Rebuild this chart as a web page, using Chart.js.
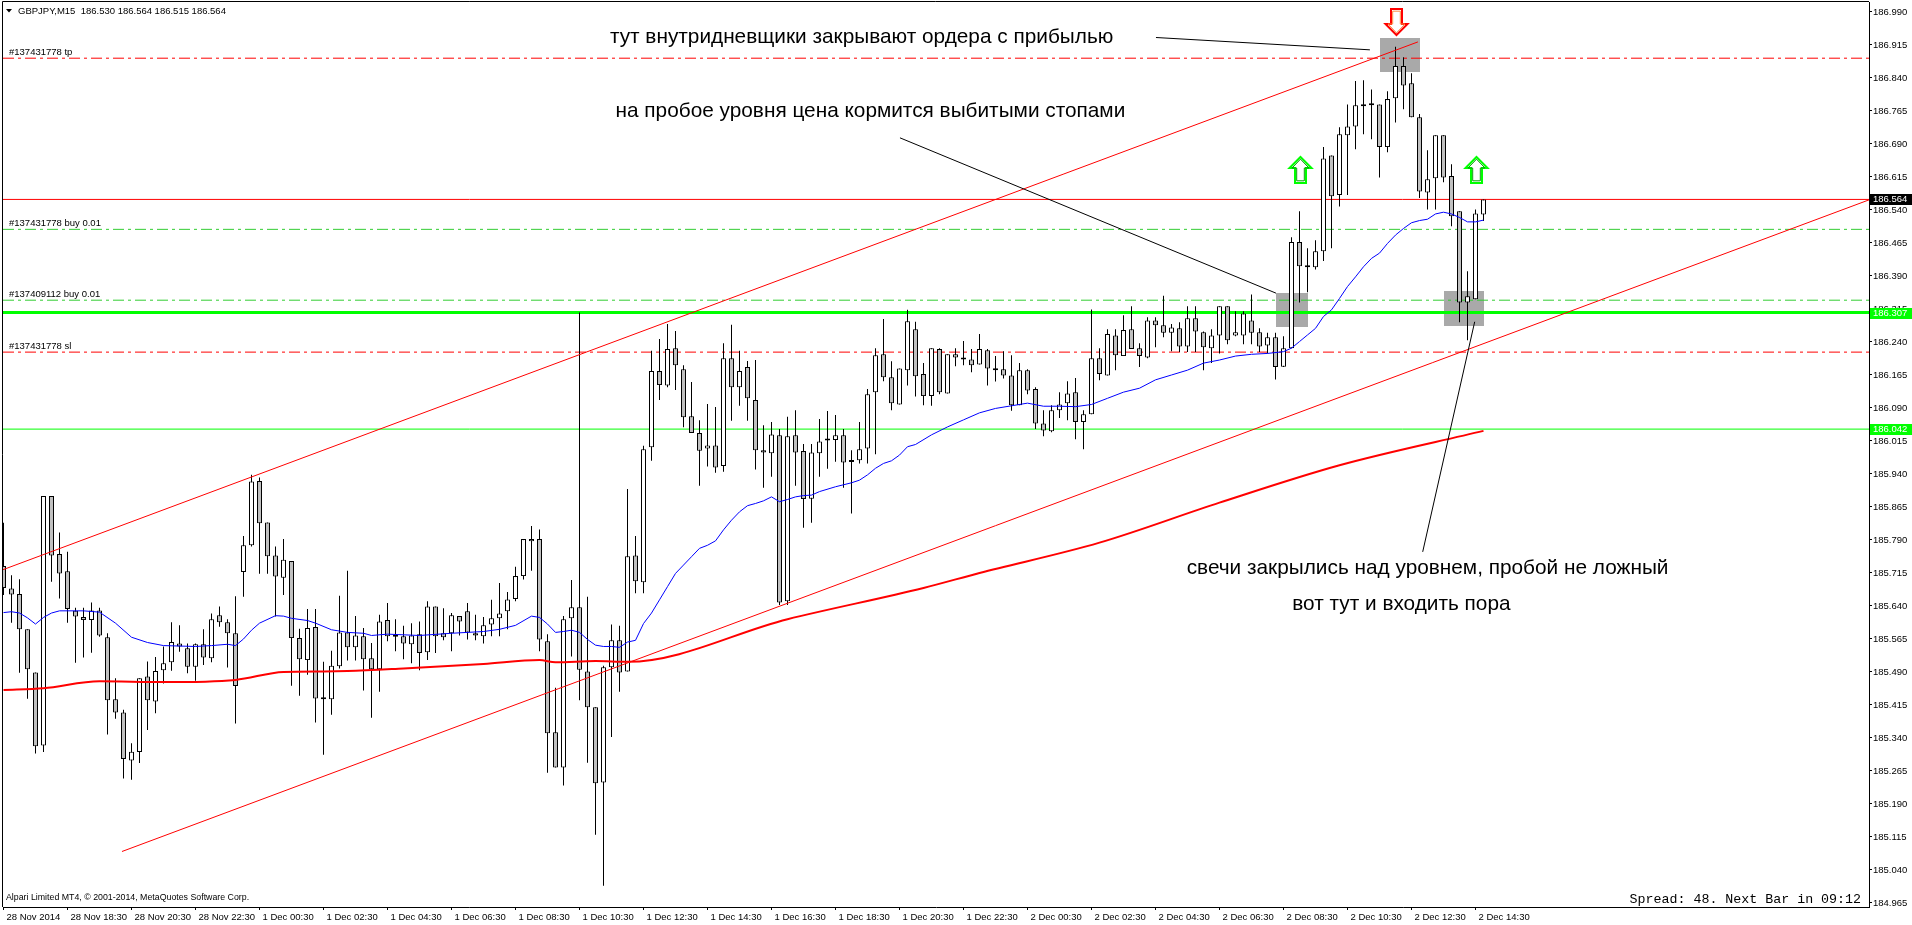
<!DOCTYPE html>
<html><head><meta charset="utf-8"><title>GBPJPY M15</title>
<script src="https://cdn.jsdelivr.net/npm/chart.js@4.4.1/dist/chart.umd.min.js"></script>
<style>html,body{margin:0;padding:0;background:#fff;overflow:hidden}canvas{display:block}</style>
</head><body>
<canvas id="c" width="1912" height="925"></canvas>
<script>
// ---------- data (GBPJPY M15, bar 0 = 28 Nov 16:30) ----------
const opens=[185.731,185.680,185.667,185.587,185.489,185.323,185.890,185.758,185.719,185.629,
185.615,185.608,185.630,185.569,185.428,185.398,185.289,185.308,185.480,185.423,
185.494,185.512,185.555,185.544,185.502,185.553,185.521,185.619,185.603,185.578,
185.717,185.778,185.924,185.830,185.755,185.704,185.742,185.567,185.517,185.592,
185.429,185.428,185.503,185.580,185.546,185.571,185.521,185.496,185.608,185.573,
185.571,185.553,185.576,185.535,185.639,185.578,185.578,185.617,185.628,185.578,
185.571,185.598,185.612,185.628,185.656,185.708,185.792,185.792,185.560,185.353,
185.273,185.612,185.637,185.491,185.410,185.239,185.501,185.562,185.491,185.755,
185.694,186.001,186.174,186.141,186.226,186.178,186.071,186.033,185.998,186.005,
185.958,186.203,186.137,186.183,186.108,185.994,185.987,186.028,185.651,186.028,
185.992,185.884,185.987,186.017,186.017,186.028,185.967,185.971,185.998,186.126,
186.212,186.160,186.098,186.176,186.269,186.167,186.117,186.224,186.123,186.212,
186.202,186.200,186.189,186.221,186.180,186.178,186.164,186.096,186.176,186.133,
186.055,186.037,186.085,186.101,186.126,186.058,186.076,186.203,186.164,186.255,
186.208,186.269,186.226,186.205,186.289,186.278,186.261,186.271,186.230,186.294,
186.262,186.226,186.255,186.321,186.255,186.255,186.289,186.262,186.232,186.251,
186.184,186.226,186.467,186.412,186.410,186.446,186.664,186.574,186.710,186.730,
186.778,186.778,186.780,186.683,186.794,186.867,186.828,186.751,186.580,186.612,
186.710,186.617,186.537,186.330,186.337,186.530];
const highs=[185.829,185.710,185.701,185.587,185.489,185.890,185.890,185.807,185.763,185.636,
185.636,185.648,185.636,185.578,185.476,185.404,185.328,185.476,185.514,185.524,
185.548,185.603,185.596,185.555,185.555,185.587,185.623,185.639,185.610,185.662,
185.799,185.938,185.932,185.830,185.775,185.792,185.742,185.588,185.633,185.633,
185.513,185.538,185.663,185.720,185.617,185.590,185.556,185.620,185.647,185.610,
185.595,185.601,185.605,185.651,185.639,185.635,185.624,185.617,185.647,185.620,
185.615,185.654,185.692,185.672,185.729,185.792,185.822,185.814,185.576,185.454,
185.617,185.699,186.307,185.661,185.410,185.504,185.598,185.595,185.906,185.799,
186.004,186.220,186.247,186.281,186.265,186.187,186.149,186.062,186.099,186.092,
186.237,186.279,186.220,186.197,186.199,186.051,186.058,186.042,186.070,186.085,
186.008,186.008,186.065,186.083,186.074,186.042,185.994,186.058,186.133,186.226,
186.292,186.196,186.180,186.313,186.286,186.192,186.226,186.226,186.212,186.226,
186.242,186.224,186.258,186.224,186.208,186.219,186.210,186.192,186.178,186.137,
186.085,186.096,186.126,186.151,186.158,186.085,186.314,186.226,186.269,186.269,
186.301,186.321,186.237,186.296,186.296,186.345,186.281,186.285,186.321,186.321,
186.264,186.269,186.321,186.321,186.310,186.310,186.348,186.271,186.261,186.261,
186.253,186.478,186.537,186.453,186.471,186.683,186.664,186.728,186.780,186.833,
186.835,186.814,186.780,186.810,186.911,186.887,186.851,186.758,186.676,186.710,
186.710,186.644,186.537,186.401,186.541,186.564];
const lows=[185.665,185.602,185.488,185.429,185.305,185.308,185.695,185.657,185.602,185.511,
185.523,185.534,185.570,185.348,185.384,185.248,185.245,185.283,185.358,185.396,
185.464,185.493,185.536,185.487,185.470,185.506,185.512,185.593,185.500,185.373,
185.661,185.775,185.713,185.713,185.616,185.665,185.459,185.436,185.484,185.375,
185.302,185.393,185.498,185.516,185.516,185.448,185.386,185.445,185.560,185.537,
185.519,185.510,185.494,185.517,185.533,185.562,185.537,185.573,185.564,185.562,
185.555,185.571,185.571,185.587,185.651,185.700,185.720,185.537,185.261,185.273,
185.232,185.525,185.426,185.284,185.120,185.004,185.342,185.445,185.491,185.669,
185.669,185.970,186.108,186.137,186.131,186.046,186.033,185.913,185.957,185.943,
185.945,186.061,186.095,186.061,185.950,185.909,185.934,185.642,185.642,185.913,
185.818,185.829,185.934,185.952,185.968,185.909,185.850,185.964,185.964,185.985,
186.151,186.085,186.098,186.141,186.116,186.096,186.095,186.121,186.123,186.185,
186.187,186.171,186.189,186.141,186.150,186.157,186.084,186.096,186.121,186.042,
186.026,186.035,186.067,186.062,186.019,185.996,186.076,186.153,186.164,186.176,
186.208,186.224,186.183,186.203,186.228,186.251,186.219,186.217,186.217,186.217,
186.176,186.192,186.214,186.235,186.253,186.235,186.235,186.217,186.214,186.155,
186.183,186.226,186.330,186.353,186.405,186.424,186.453,186.548,186.574,186.678,
186.712,186.701,186.614,186.671,186.739,186.769,186.751,186.567,186.541,186.541,
186.603,186.503,186.285,186.244,186.337,186.515];
const closes=[185.681,185.666,185.587,185.496,185.321,185.890,185.755,185.714,185.633,185.616,
185.608,185.630,185.573,185.426,185.398,185.292,185.309,185.476,185.426,185.492,
185.510,185.558,185.548,185.502,185.553,185.523,185.610,185.603,185.578,185.458,
185.778,185.923,185.828,185.753,185.707,185.745,185.567,185.519,185.590,185.430,
185.428,185.504,185.580,185.546,185.573,185.519,185.496,185.605,185.571,185.570,
185.555,185.573,185.533,185.639,185.571,185.569,185.619,185.605,185.580,185.573,
185.596,185.612,185.623,185.655,185.708,185.792,185.787,185.564,185.351,185.273,
185.610,185.637,185.495,185.410,185.237,185.501,185.562,185.489,185.753,185.696,
185.996,186.174,186.142,186.224,186.187,186.069,186.033,185.993,186.005,185.955,
186.203,186.137,186.174,186.112,185.994,185.989,186.030,185.648,186.026,185.989,
185.883,185.989,186.014,186.016,186.028,185.966,185.971,185.996,186.121,186.210,
186.160,186.101,186.180,186.287,186.162,186.117,186.226,186.126,186.212,186.205,
186.200,186.187,186.224,186.180,186.176,186.164,186.096,186.176,186.130,186.055,
186.039,186.085,186.098,186.123,186.058,186.076,186.203,186.167,186.258,186.210,
186.267,186.224,186.208,186.289,186.278,186.261,186.273,186.230,186.294,186.264,
186.228,186.255,186.321,186.244,186.262,186.305,186.261,186.230,186.251,186.183,
186.226,186.467,186.412,186.410,186.446,186.657,186.571,186.712,186.730,186.778,
186.776,186.782,186.683,186.792,186.867,186.823,186.751,186.582,186.610,186.710,
186.614,186.526,186.330,186.344,186.532,186.564];

// blue moving average, read at these bars
const maFastIdx=[0,1,2,3,4,5,6,7,10,12,14,16,18,20,22,24,26,28,29,30,31,32,34,35,36,38,39,41,43,45,46,48,52,56,60,62,64,
66,67,68,69,70,71,72,73,74,75,76,77,78,79,80,81,82,83,84,85,86,87,88,89,90,91,92,93,94,95,96,97,98,99,100,101,102,
104,106,107,108,109,110,111,112,113,114,116,118,120,122,124,126,128,130,132,134,136,138,140,142,144,146,148,150,152,154,156,158,160,
161,162,163,164,165,166,167,168,169,170,171,172,173,174,175,176,177,178,179,180,181,182,183,184,185];
const maFastVal=[185.625,185.627,185.624,185.613,185.599,185.614,185.624,185.629,185.629,185.626,185.601,185.569,185.557,185.550,185.549,185.548,185.550,185.553,185.550,185.565,185.585,185.601,185.618,185.617,185.612,185.607,185.601,185.586,185.580,185.578,185.573,185.576,185.573,185.578,185.582,185.587,185.596,
185.617,185.614,185.599,185.580,185.582,185.585,185.580,185.564,185.551,185.548,185.548,185.546,185.558,185.562,185.600,185.624,185.654,185.684,185.714,185.733,185.752,185.771,185.778,185.788,185.813,185.835,185.854,185.868,185.873,185.879,185.888,185.877,185.882,185.888,185.891,185.892,185.900,
185.911,185.920,185.926,185.938,185.953,185.964,185.970,185.983,186.002,186.007,186.029,186.047,186.063,186.079,186.089,186.095,186.101,186.094,186.094,186.093,186.098,186.112,186.126,186.135,186.154,186.165,186.176,186.192,186.199,186.208,186.212,186.214,186.218,
186.226,186.241,186.256,186.271,186.298,186.313,186.339,186.366,186.388,186.411,186.430,186.442,186.464,186.483,186.498,186.511,186.516,186.519,186.531,186.535,186.531,186.523,186.513,186.513,186.517];
// red slow moving average
const maSlowIdx=[0,5,12,20,29,35,40,43,50,60,67,69,74,78,98,115,122,137,152,167,185];
const maSlowVal=[185.449,185.453,185.469,185.467,185.472,185.490,185.491,185.492,185.498,185.508,185.517,185.512,185.515,185.513,185.610,185.681,185.715,185.784,185.875,185.960,186.038];

// axis ticks
const xTickIdx=[0,8,16,24,32,40,48,56,64,72,80,88,96,104,112,120,128,136,144,152,160,168,176,184];
const xTickLabels=['28 Nov 2014','28 Nov 18:30','28 Nov 20:30','28 Nov 22:30','1 Dec 00:30','1 Dec 02:30','1 Dec 04:30','1 Dec 06:30','1 Dec 08:30','1 Dec 10:30','1 Dec 12:30','1 Dec 14:30','1 Dec 16:30','1 Dec 18:30','1 Dec 20:30','1 Dec 22:30','2 Dec 00:30','2 Dec 02:30','2 Dec 04:30','2 Dec 06:30','2 Dec 08:30','2 Dec 10:30','2 Dec 12:30','2 Dec 14:30'];
const yTickValues=[184.965,185.040,185.115,185.190,185.265,185.340,185.415,185.490,185.565,185.640,185.715,185.790,185.865,185.940,186.015,186.090,186.165,186.240,186.315,186.390,186.465,186.540,186.615,186.690,186.765,186.840,186.915,186.990];

// price levels
const tpLevel=186.885, slLevel=186.217, buyLevelA=186.496, buyLevelB=186.335;
const bidLevel=186.564, breakLevel=186.307, lowLevel=186.042;
const orderTags=[[tpLevel,'#137431778 tp'],[buyLevelA,'#137431778 buy 0.01'],[buyLevelB,'#137409112 buy 0.01'],[slLevel,'#137431778 sl']];

// drawn objects (bar index, price)
const channelUpper=[[-0.4375,185.720],[176.8,186.922]];
const channelLower=[[14.81,185.082],[233.19,186.563]];
const pointerA=[[144.06,186.932],[170.8,186.904]];
const pointerB=[[112.06,186.704],[159.06,186.351]];
const pointerC=[[183.9,186.286],[177.4,185.763]];
const zoneBoxes=[[172,177,186.932,186.854],[159,163,186.351,186.273],[180,185,186.356,186.276]];
const arrowMarks=[[162,186.661,'up'],[184,186.661,'up'],[174,186.938,'down']];
const notes=[[75.8,186.933,'тут внутридневщики закрывают ордера с прибылью'],
 [76.5,186.765,'на пробое уровня цена кормится выбитыми стопами'],
 [147.9,185.726,'свечи закрылись над уровнем, пробой не ложный'],
 [161.1,185.645,'вот тут и входить пора']];

// ---------- chart ----------
const FONT="'Liberation Sans', Arial, sans-serif";
Chart.defaults.font.family=FONT;
Chart.defaults.color='#000';
const SMALL="9.5px "+FONT;
const XMIN=-0.0625, XMAX=233.1875, YMIN=184.9559, YMAX=187.0127;

function hline(level,color,width,dash){
  return {type:'line',data:[{x:XMIN,y:level},{x:XMAX,y:level}],borderColor:color,borderWidth:width,
    borderDash:dash||[],pointRadius:0,order:6,clip:0,tension:0};
}
function seg(pts,color,width,order){
  return {type:'line',data:pts.map(p=>({x:p[0],y:p[1]})),borderColor:color,borderWidth:width,pointRadius:0,order:order,clip:0,tension:0};
}
const DASHDOT=[11,4,3,4];

const wickData=highs.map((h,i)=>({x:i,y:[lows[i],h]}));
const bodyData=opens.map((o,i)=>({x:i,y:[Math.min(o,closes[i]),Math.max(o,closes[i])]}));
const bodyColors=opens.map((o,i)=>closes[i]>=o?'#FFFFFF':'#C0C0C0');

const datasets=[
  hline(tpLevel,'#FF0000',1,DASHDOT),
  hline(slLevel,'#FF0000',1,DASHDOT),
  hline(buyLevelA,'#32CD32',1,DASHDOT),
  hline(buyLevelB,'#32CD32',1,DASHDOT),
  hline(breakLevel,'#00FF00',3),
  hline(lowLevel,'#00FF00',1),
  hline(bidLevel,'#FF0000',1),
  {type:'bar',data:wickData,backgroundColor:'#000',borderWidth:0,barThickness:1,grouped:false,inflateAmount:0,order:5,clip:0},
  {type:'bar',data:bodyData,backgroundColor:bodyColors,borderColor:'#000',borderWidth:1,borderSkipped:false,
    barThickness:5,grouped:false,inflateAmount:0,minBarLength:2,order:4,clip:0},
  {type:'line',data:maFastIdx.map((v,k)=>({x:v,y:maFastVal[k]})),borderColor:'#0000FF',borderWidth:1,pointRadius:0,order:3,clip:0,tension:0},
  {type:'line',data:maSlowIdx.map((v,k)=>({x:v,y:maSlowVal[k]})),borderColor:'#FF0000',borderWidth:2,pointRadius:0,order:3,clip:0,tension:0.3,cubicInterpolationMode:'monotone'},
  seg(channelUpper,'#FF0000',1,2),
  seg(channelLower,'#FF0000',1,2),
  seg(pointerA,'#000',1,1),
  seg(pointerB,'#000',1,1),
  seg(pointerC,'#000',1,1)
];

function arrowPath(ctx,cx,ty,dir,hh,sh,hl,len){
  const s=dir==='up'?1:-1;
  ctx.beginPath();
  ctx.moveTo(cx,ty);
  ctx.lineTo(cx+hh,ty+s*hl);
  ctx.lineTo(cx+sh,ty+s*hl);
  ctx.lineTo(cx+sh,ty+s*len);
  ctx.lineTo(cx-sh,ty+s*len);
  ctx.lineTo(cx-sh,ty+s*hl);
  ctx.lineTo(cx-hh,ty+s*hl);
  ctx.closePath();
}
function drawArrow(ctx,cx,ty,dir){
  const outer=dir==='up'?'#00FF00':'#FF0000';
  const inner=dir==='up'?'#00A000':'#FF8C40';
  ctx.lineJoin='miter';
  arrowPath(ctx,cx,ty,dir,11,5.5,11,26);
  ctx.fillStyle='#FFFFFF';ctx.fill();
  ctx.lineWidth=2;ctx.strokeStyle=outer;ctx.stroke();
  const s=dir==='up'?1:-1;
  arrowPath(ctx,cx,ty+s*2.2,dir,8.5,3.8,8.8,21.6);
  ctx.lineWidth=1;ctx.strokeStyle=inner;ctx.stroke();
}

const overlay={
  id:'overlay',
  beforeDatasetsDraw(chart){
    const {ctx,chartArea:a,scales:{x,y}}=chart;
    ctx.save();
    ctx.beginPath();ctx.rect(a.left,a.top,a.right-a.left,a.bottom-a.top);ctx.clip();
    ctx.fillStyle='#A9A9A9';
    zoneBoxes.forEach(([i0,i1,p0,p1])=>{
      const x0=Math.round(x.getPixelForValue(i0)),x1=Math.round(x.getPixelForValue(i1));
      const y0=Math.round(y.getPixelForValue(p0)),y1=Math.round(y.getPixelForValue(p1));
      ctx.fillRect(x0,y0,x1-x0,y1-y0);
    });
    ctx.restore();
  },
  afterDatasetsDraw(chart){
    const {ctx,chartArea:a,scales:{x,y}}=chart;
    ctx.save();
    ctx.beginPath();ctx.rect(a.left,a.top,a.right-a.left,a.bottom-a.top);ctx.clip();
    arrowMarks.forEach(([i,p,dir])=>drawArrow(ctx,Math.round(x.getPixelForValue(i))+0.5,Math.round(y.getPixelForValue(p)),dir));
    ctx.fillStyle='#000';ctx.textAlign='left';ctx.textBaseline='middle';
    ctx.font="20.8px "+FONT;
    notes.forEach(([i,p,t])=>ctx.fillText(t,x.getPixelForValue(i),y.getPixelForValue(p)));
    ctx.font=SMALL;ctx.textBaseline='alphabetic';
    orderTags.forEach(([p,t])=>ctx.fillText(t,a.left+6,Math.round(y.getPixelForValue(p))-3));
    ctx.restore();
  },
  afterDraw(chart){
    const {ctx,chartArea:a,scales:{y}}=chart;
    ctx.save();
    ctx.strokeStyle='#000';ctx.lineWidth=1;
    ctx.beginPath();ctx.moveTo(a.left-0.5,a.bottom);ctx.lineTo(a.left-0.5,a.top-0.5);ctx.lineTo(a.right,a.top-0.5);ctx.stroke();
    ctx.font=SMALL;ctx.textBaseline='middle';ctx.textAlign='left';
    [[bidLevel,'#000000'],[breakLevel,'#00FF00'],[lowLevel,'#00FF00']].forEach(([p,c])=>{
      const py=Math.round(y.getPixelForValue(p));
      ctx.fillStyle=c;ctx.fillRect(a.right+1,py-5,chart.width-a.right-1,11);
      ctx.fillStyle='#FFFFFF';ctx.fillText(p.toFixed(3),a.right+4,py+0.5);
    });
    const n=closes.length-1;
    ctx.fillStyle='#000';
    ctx.beginPath();ctx.moveTo(6,9);ctx.lineTo(12,9);ctx.lineTo(9,12.5);ctx.closePath();ctx.fill();
    ctx.fillText('GBPJPY,M15  '+opens[n].toFixed(3)+' '+highs[n].toFixed(3)+' '+lows[n].toFixed(3)+' '+closes[n].toFixed(3),18,11);
    ctx.font="8.8px "+FONT;
    ctx.fillText('Alpari Limited MT4, \u00A9 2001-2014, MetaQuotes Software Corp.',6,898);
    ctx.font="13.3px 'Liberation Mono', 'DejaVu Sans Mono', monospace";ctx.textAlign='right';
    ctx.fillText('Spread: 48. Next Bar in 09:12',a.right-8,899);
    ctx.restore();
  }
};

new Chart(document.getElementById('c'),{
  type:'bar',
  data:{datasets:datasets},
  options:{
    responsive:false,animation:false,devicePixelRatio:1,
    layout:{padding:{left:3,top:2,right:0,bottom:0}},
    plugins:{legend:{display:false},tooltip:{enabled:false}},
    scales:{
      x:{type:'linear',min:XMIN,max:XMAX,offset:false,
        grid:{drawOnChartArea:false,drawTicks:true,tickLength:3,color:'#000',offset:false},
        border:{display:true,color:'#000'},
        ticks:{autoSkip:false,maxRotation:0,minRotation:0,align:'start',labelOffset:3,padding:2,
          font:{size:9.5},color:'#000',callback:(v,i)=>xTickLabels[i]},
        afterBuildTicks:s=>{s.ticks=xTickIdx.map(v=>({value:v}));},
        afterFit:s=>{s.height=18;s.paddingLeft=0;s.paddingRight=0;}
      },
      y:{type:'linear',position:'right',min:YMIN,max:YMAX,
        grid:{drawOnChartArea:false,drawTicks:true,tickLength:3,color:'#000'},
        border:{display:true,color:'#000'},
        ticks:{autoSkip:false,padding:1,font:{size:9.5},color:'#000',callback:v=>Number(v).toFixed(3)},
        afterBuildTicks:s=>{s.ticks=yTickValues.map(v=>({value:v}));},
        afterFit:s=>{s.width=43;s.paddingTop=0;s.paddingBottom=0;}
      }
    }
  },
  plugins:[overlay]
});
</script>
</body></html>
